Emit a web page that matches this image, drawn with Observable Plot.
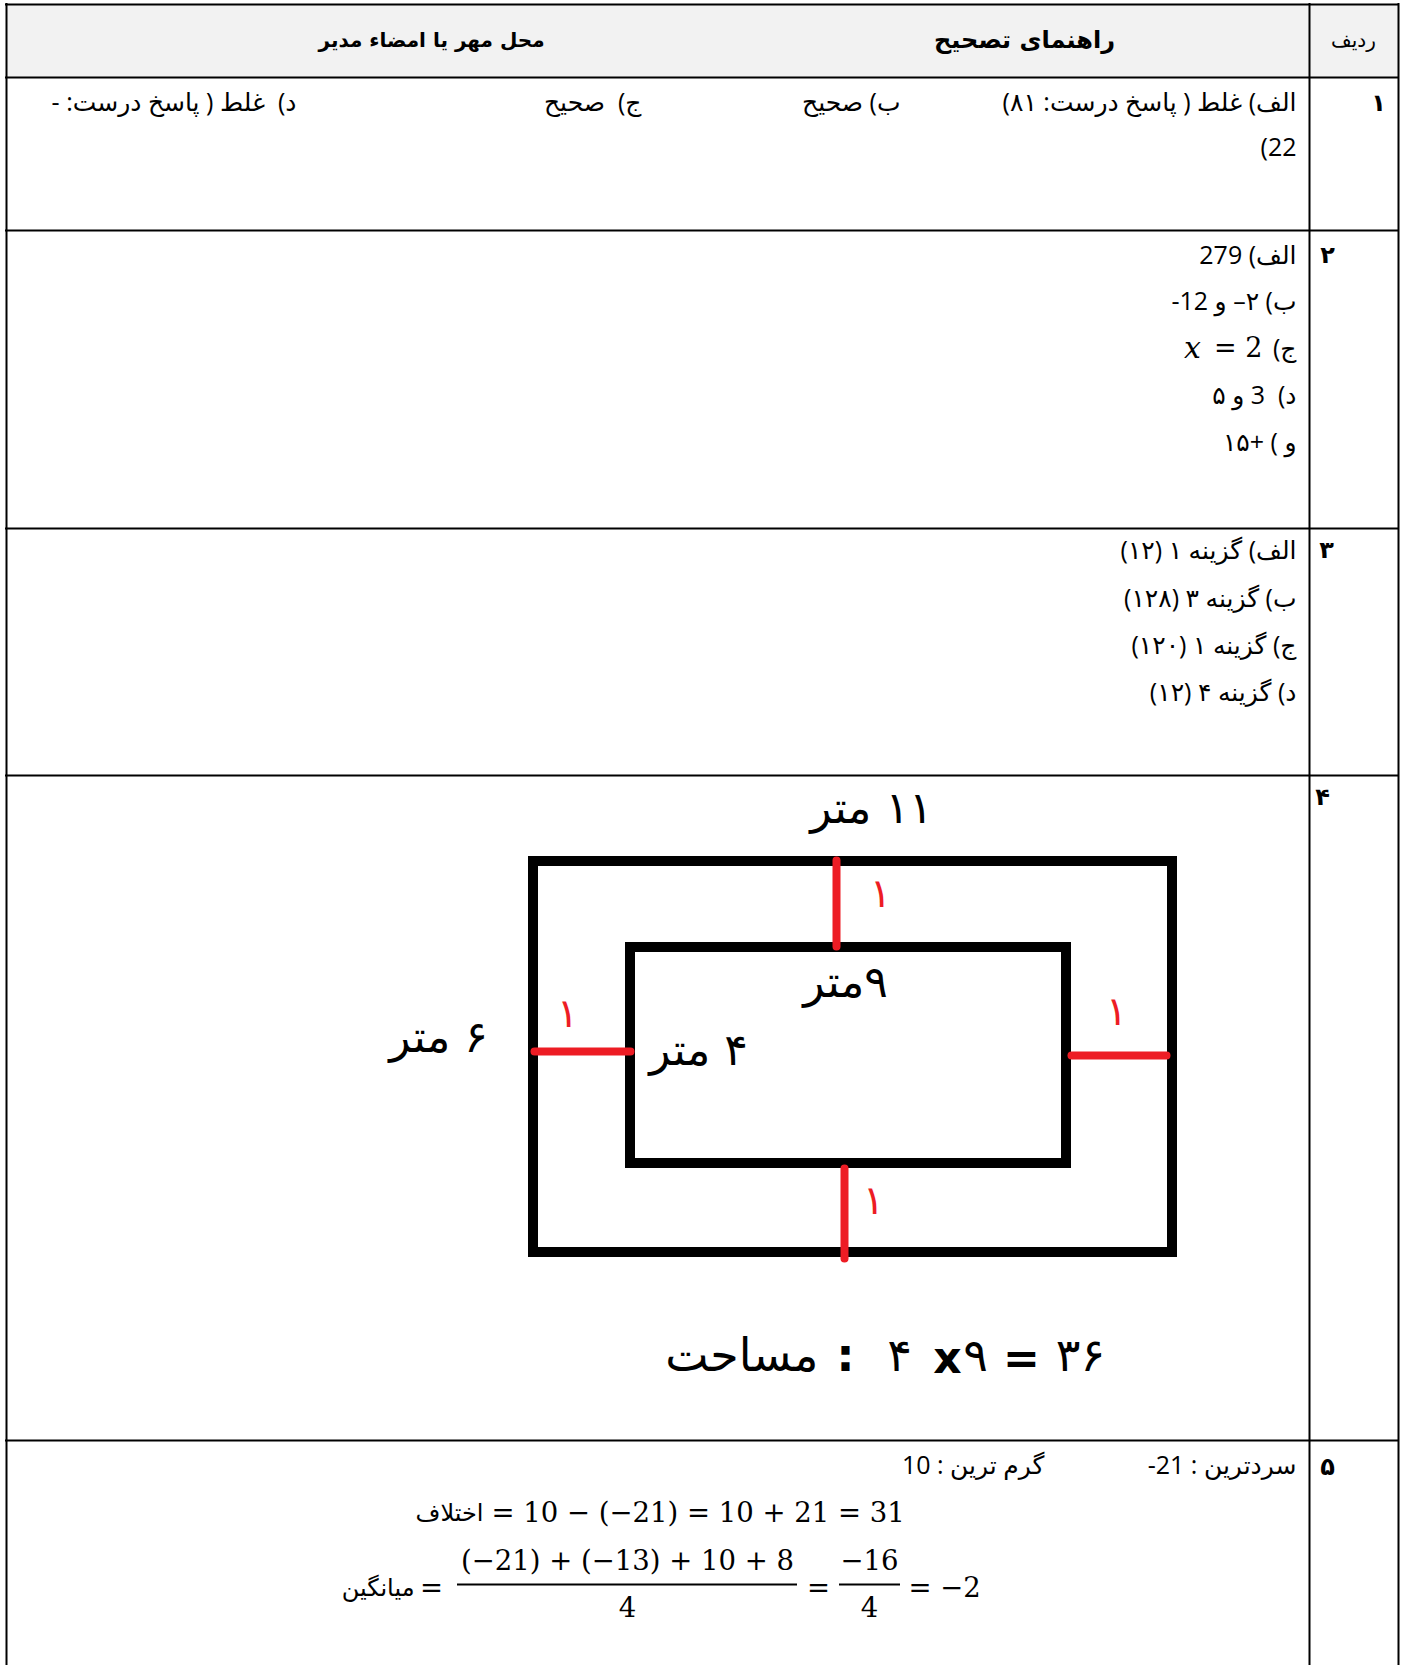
<!DOCTYPE html>
<html>
<head>
<meta charset="utf-8">
<script src="https://cdn.jsdelivr.net/npm/d3@7"></script>
<script src="https://cdn.jsdelivr.net/npm/@observablehq/plot@0.6"></script>
<style>
  html, body { margin: 0; padding: 0; background: #fff; }
</style>
</head>
<body>
<div id="chart"></div>
<script>
// ---------------- content (text and values) ----------------
const headerLabels = ["ردیف", "راهنمای تصحیح", "محل مهر یا امضاء مدیر"];
const rowNumbers = ["۱", "۲", "۳", "۴", "۵"];
const q1Answers = ["الف) غلط ( پاسخ درست: ۸۱)", "22)", "ب) صحیح", "ج)  صحیح", "د)  غلط ( پاسخ درست: -"];
const q2Answers = ["الف) 279", "ب) ۲– و 12-", "ج)", "د)  3 و ۵", "و ) +۱۵"];
const q2Math = ["x", "= 2"];
const q3Answers = ["الف) گزینه ۱ (۱۲)", "ب) گزینه ۳ (۱۲۸)", "ج) گزینه ۱ (۱۲۰)", "د) گزینه ۴ (۱۲)"];
const q4Dimensions = ["۱۱ متر", "۹متر", "۴ متر", "۶ متر"];
const q4Margins = ["۱", "۱", "۱", "۱"];
const q4AreaLabel = ["مساحت", ":"];
const q4AreaDigits = ["۴", "۹", "۳۶"];
const q4AreaOps = ["x", "="];
const q5Temps = ["سردترین : 21-", "گرم ترین : 10"];
const q5Diff = ["اختلاف", "= 10 − (−21) = 10 + 21 = 31"];
const q5MeanLabel = ["میانگین", "="];
const q5MeanFrac = ["(−21) + (−13) + 10 + 8", "4", "−16", "4"];
const q5MeanOps = ["=", "= −2"];

// ---------------- layout (page pixels) ----------------
const W = 1405, H = 1665;
const tableLeft = 6, tableRight = 1398, colDivider = 1309, tableTop = 4, headerBottom = 77;
const rowBottoms = [230, 528, 775, 1440];
const textRight = 1296;
const headerPos = [[1353, 40], [1024, 40], [431, 40]];
const rowNumPos = [[1378, 103], [1327, 255], [1326, 550], [1322, 797], [1327, 1467]];
const q1Pos = [[textRight, 102], [textRight, 147], [900, 102], [641, 102], [296, 102]];
const q2Y = [255, 301, 348, 395, 442];
const q2MathPos = [[1192, 348], [1262, 348]];
const q3Y = [550, 598, 645, 692];
const outerRect = {x1: 533, x2: 1172, y1: 861, y2: 1252};
const innerRect = {x1: 630, x2: 1066, y1: 947, y2: 1163};
const redBars = [
  {x1: 836, y1: 860, x2: 836, y2: 946},
  {x1: 844, y1: 1168, x2: 844, y2: 1258},
  {x1: 534, y1: 1051, x2: 630, y2: 1051},
  {x1: 1071, y1: 1055, x2: 1166, y2: 1055}
];
const marginPos = [[880, 894], [567, 1014], [1116, 1012], [873, 1201]];
const dimPos = [[871, 808], [845, 982], [698, 1050], [438, 1037]];
const areaLabelPos = [[818, 1356], [845, 1356]];
const areaDigitPos = [[899, 1356], [975, 1356], [1080, 1356]];
const areaOpsPos = [[947, 1358], [1021, 1358]];
const q5TempPos = [[textRight, 1465], [1044, 1465]];
const q5DiffPos = [[483, 1513], [491, 1513]];
const q5MeanLabelPos = [[414, 1588], [431, 1588]];
const q5FracPos = [[627, 1561], [627, 1608], [869, 1561], [869, 1608]];
const q5FracBars = [{x1: 457, x2: 797, y: 1584}, {x1: 839, x2: 900, y: 1584}];
const q5OpsPos = [[818, 1588], [908, 1588]];

// ---------------- helpers ----------------
const RTL = s => "\u202B" + s + "\u202C";
const zip = (texts, pos, f = t => t) => texts.map((t, i) => ({x: pos[i][0], y: pos[i][1], t: f(t)}));
const SANS = "'Open Sans', 'DejaVu Sans', sans-serif";
const ARAB = "'DejaVu Sans', sans-serif";
const MATH = "'DejaVu Serif', serif";
const T = (data, o) => Plot.text(data, {x: "x", y: "y", text: "t", fill: "black", ...o});

const hLineData = [tableTop, headerBottom, ...rowBottoms].map(y => ({y}));
const vLineData = [tableLeft, colDivider, tableRight].map(x => ({x}));

const chart = Plot.plot({
  width: W,
  height: H,
  margin: 0,
  x: {type: "linear", domain: [0, W], range: [0, W], axis: null},
  y: {type: "linear", domain: [0, H], range: [0, H], axis: null},
  style: {background: "white", overflow: "visible"},
  marks: [
    // header background
    Plot.rect([{x1: tableLeft, x2: tableRight, y1: tableTop, y2: headerBottom}],
      {x1: "x1", x2: "x2", y1: "y1", y2: "y2", fill: "#f2f2f2"}),
    // table grid
    Plot.ruleY(hLineData, {y: "y", x1: tableLeft - 1, x2: tableRight + 1, stroke: "black", strokeWidth: 2}),
    Plot.ruleX(vLineData, {x: "x", y1: tableTop - 1, y2: H, stroke: "black", strokeWidth: 2}),

    // header texts
    T(zip([headerLabels[0]], [headerPos[0]], RTL), {fontFamily: ARAB, fontSize: 20, textAnchor: "middle"}),
    T(zip([headerLabels[1]], [headerPos[1]], RTL), {fontFamily: ARAB, fontSize: 24, fontWeight: "bold", textAnchor: "middle"}),
    T(zip([headerLabels[2]], [headerPos[2]], RTL), {fontFamily: ARAB, fontSize: 20, fontWeight: "bold", textAnchor: "middle"}),

    // row numbers
    T(zip(rowNumbers, rowNumPos), {fontFamily: ARAB, fontSize: 24, fontWeight: "bold", textAnchor: "middle"}),

    // question 1
    T(zip(q1Answers, q1Pos, RTL), {fontFamily: SANS, fontSize: 25, textAnchor: "end"}),

    // question 2
    T(zip(q2Answers, q2Y.map(y => [textRight, y]), RTL), {fontFamily: SANS, fontSize: 25, textAnchor: "end"}),
    T(zip([q2Math[0]], [q2MathPos[0]]), {fontFamily: MATH, fontSize: 30, fontStyle: "italic", textAnchor: "middle"}),
    T(zip([q2Math[1]], [q2MathPos[1]]), {fontFamily: MATH, fontSize: 27, textAnchor: "end"}),

    // question 3
    T(zip(q3Answers, q3Y.map(y => [textRight, y]), RTL), {fontFamily: SANS, fontSize: 25, textAnchor: "end"}),

    // question 4 diagram
    Plot.rect([outerRect, innerRect], {x1: "x1", x2: "x2", y1: "y1", y2: "y2",
      fill: "none", stroke: "black", strokeWidth: 10}),
    Plot.link(redBars, {x1: "x1", y1: "y1", x2: "x2", y2: "y2",
      stroke: "#ed1c24", strokeWidth: 8, strokeLinecap: "round"}),
    T(zip(q4Margins, marginPos), {fontFamily: ARAB, fontSize: 40, fill: "#ed1c24", textAnchor: "middle"}),
    T(zip(q4Dimensions, dimPos, RTL), {fontFamily: ARAB, fontSize: 44, textAnchor: "middle"}),
    T(zip([q4AreaLabel[0]], [areaLabelPos[0]], RTL), {fontFamily: ARAB, fontSize: 46, textAnchor: "end"}),
    T(zip([q4AreaLabel[1]], [areaLabelPos[1]]), {fontFamily: ARAB, fontSize: 46, fontWeight: "bold", textAnchor: "middle"}),
    T(zip(q4AreaDigits, areaDigitPos), {fontFamily: ARAB, fontSize: 46, textAnchor: "middle"}),
    T(zip(q4AreaOps, areaOpsPos), {fontFamily: ARAB, fontSize: 44, fontWeight: "bold", textAnchor: "middle"}),

    // question 5
    T(zip(q5Temps, q5TempPos, RTL), {fontFamily: SANS, fontSize: 25, textAnchor: "end"}),
    T(zip([q5Diff[0]], [q5DiffPos[0]], RTL), {fontFamily: ARAB, fontSize: 24, textAnchor: "end"}),
    T(zip([q5Diff[1]], [q5DiffPos[1]]), {fontFamily: MATH, fontSize: 27.5, textAnchor: "start"}),
    T(zip([q5MeanLabel[0]], [q5MeanLabelPos[0]], RTL), {fontFamily: ARAB, fontSize: 24, textAnchor: "end"}),
    T(zip([q5MeanLabel[1]], [q5MeanLabelPos[1]]), {fontFamily: MATH, fontSize: 27.5, textAnchor: "middle"}),
    T(zip(q5MeanFrac, q5FracPos), {fontFamily: MATH, fontSize: 27.5, textAnchor: "middle"}),
    Plot.ruleY(q5FracBars, {y: "y", x1: "x1", x2: "x2", stroke: "black", strokeWidth: 2}),
    T(zip([q5MeanOps[0]], [q5OpsPos[0]]), {fontFamily: MATH, fontSize: 27.5, textAnchor: "middle"}),
    T(zip([q5MeanOps[1]], [q5OpsPos[1]]), {fontFamily: MATH, fontSize: 27.5, textAnchor: "start"})
  ]
});
document.getElementById("chart").appendChild(chart);
</script>
</body>
</html>
